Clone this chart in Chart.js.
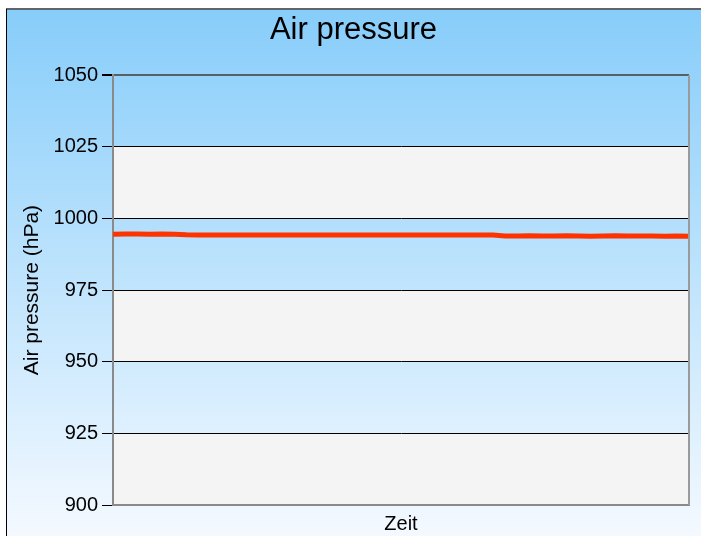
<!DOCTYPE html>
<html>
<head>
<meta charset="utf-8">
<script src="https://cdn.jsdelivr.net/npm/chart.js@4/dist/chart.umd.min.js"></script>
<style>
  html, body { margin: 0; padding: 0; background: #fff; }
  #wrap { width: 701px; height: 536px; }
</style>
</head>
<body>
<div id="wrap"><canvas id="pressureChart" width="701" height="536"></canvas></div>
<script>
// Data for the chart
const times = [
  '00:00', '00:30', '01:00', '01:30', '02:00', '02:30', '03:00', '03:30',
  '04:00', '04:30', '05:00', '05:30', '06:00', '06:30', '07:00', '07:30',
  '08:00', '08:30', '09:00', '09:30', '10:00', '10:30', '11:00', '11:30',
  '12:00', '12:30', '13:00', '13:30', '14:00', '14:30', '15:00', '15:30',
  '16:00', '16:30', '17:00', '17:30', '18:00', '18:30', '19:00', '19:30',
  '20:00', '20:30', '21:00', '21:30', '22:00', '22:30', '23:00', '23:30'
];
const pressure = [
  994.5, 994.6, 994.6, 994.5, 994.6, 994.5, 994.3, 994.2,
  994.2, 994.2, 994.2, 994.2, 994.2, 994.2, 994.2, 994.2,
  994.2, 994.2, 994.2, 994.2, 994.2, 994.2, 994.2, 994.2,
  994.2, 994.2, 994.2, 994.2, 994.2, 994.2, 994.2, 994.2,
  993.9, 993.9, 994.0, 993.9, 993.9, 994.0, 993.9, 993.8,
  993.9, 994.0, 993.9, 993.9, 993.9, 993.8, 993.9, 993.8
];
const yTicks = { min: 900, max: 1050, step: 25 };
const shadedBands = [[1000, 1025], [950, 975], [900, 925]];

const font = 'Liberation Sans, Arial, sans-serif';

// Background frame, gradient and shaded bands
const backdrop = {
  id: 'backdrop',
  beforeDraw(chart) {
    const { ctx, chartArea, scales } = chart;
    const W = chart.width, H = chart.height;
    const fx = 6, fy = 9;
    ctx.save();
    ctx.fillStyle = '#ffffff';
    ctx.fillRect(0, 0, W, H);
    const g = ctx.createLinearGradient(0, fy, 0, H);
    g.addColorStop(0, '#87cdfa');
    g.addColorStop(1, '#f4f9ff');
    ctx.fillStyle = g;
    ctx.fillRect(fx, fy, W - fx, H - fy);
    ctx.fillStyle = '#60656b';
    ctx.fillRect(fx, fy - 1, W - fx, 2);
    ctx.fillStyle = '#000000';
    ctx.fillRect(fx, fy, 1, H - fy);

    ctx.fillStyle = '#f4f4f4';
    shadedBands.forEach(([a, b]) => {
      const y1 = scales.y.getPixelForValue(b);
      const y2 = scales.y.getPixelForValue(a);
      ctx.fillRect(chartArea.left, y1, chartArea.right - chartArea.left, y2 - y1);
    });
    ctx.restore();
  },
  afterDraw(chart) {
    const { ctx, chartArea } = chart;
    ctx.save();
    ctx.strokeStyle = '#9a9a9a';
    ctx.lineWidth = 2;
    ctx.beginPath();
    ctx.moveTo(chartArea.right, chartArea.top);
    ctx.lineTo(chartArea.right, chartArea.bottom);
    ctx.stroke();
    ctx.restore();
  }
};

const ctx = document.getElementById('pressureChart').getContext('2d');
const chart = new Chart(ctx, {
  type: 'line',
  data: {
    labels: times,
    datasets: [{
      label: 'Air pressure',
      data: pressure,
      borderColor: '#ff3300',
      borderWidth: 5,
      pointRadius: 0,
      tension: 0,
      fill: false
    }]
  },
  options: {
    responsive: false,
    animation: false,
    layout: { padding: { left: 6, top: 9, right: 0, bottom: 0 } },
    plugins: {
      legend: { display: false },
      tooltip: { enabled: false },
      title: {
        display: true,
        text: 'Air pressure',
        color: '#000',
        font: { family: font, size: 31, weight: 'normal' },
        padding: { top: 3, bottom: 26 }
      }
    },
    scales: {
      x: {
        offset: false,
        grid: { display: false, drawTicks: false },
        border: { display: true, color: '#8a8a8a', width: 2 },
        ticks: { display: false },
        title: {
          display: true,
          text: 'Zeit',
          color: '#000',
          font: { family: font, size: 20 },
          padding: { top: 7, bottom: 0 }
        }
      },
      y: {
        min: yTicks.min,
        max: yTicks.max,
        afterFit(scale) { scale.width = 107; },
        ticks: {
          stepSize: yTicks.step,
          color: '#000',
          padding: 4,
          font: { family: font, size: 20 },
          callback: v => String(v)
        },
        grid: {
          color: c => c.tick && c.tick.value === yTicks.max ? '#5a5f66' : '#000',
          lineWidth: c => c.tick && c.tick.value === yTicks.max ? 2 : 1,
          tickColor: '#000',
          tickLength: 11
        },
        border: { display: true, color: '#8a8a8a', width: 2 },
        title: {
          display: true,
          text: 'Air pressure (hPa)',
          color: '#000',
          font: { family: font, size: 21 },
          padding: { top: 14, bottom: 0 }
        }
      },
      yRight: {
        position: 'right',
        min: yTicks.min,
        max: yTicks.max,
        afterFit(scale) { scale.width = 12; },
        ticks: { display: false },
        grid: { display: false, drawTicks: false },
        border: { display: false }
      }
    }
  },
  plugins: [backdrop]
});
</script>
</body>
</html>
